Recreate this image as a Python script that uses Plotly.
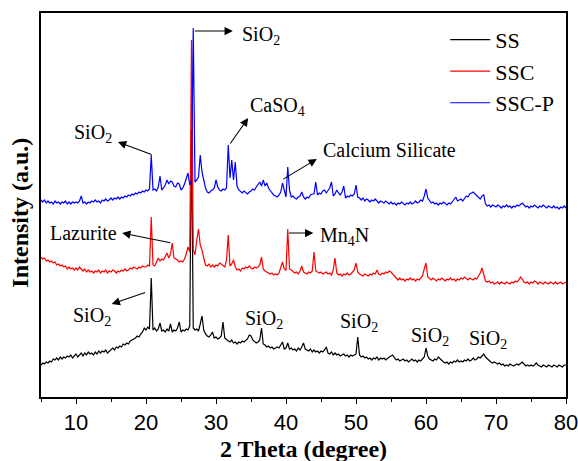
import numpy as np
import plotly.graph_objects as go

# 2-theta scan grid (degrees), 0.25 deg step
two_theta = np.round(np.arange(5.0, 80.001, 0.25), 2)

# Intensities (a.u.), one row = 5 degrees
ss = [
    35, 37, 36, 38, 37, 39, 38, 41, 40, 42, 40, 43, 41, 43, 42, 44, 43, 45, 42, 44,
    46, 43, 45, 47, 44, 47, 45, 48, 46, 47, 45, 48, 46, 49, 47, 49, 48, 50, 47, 49,
    50, 52, 50, 53, 52, 54, 53, 56, 55, 57, 56, 59, 60, 61, 62, 64, 63, 66, 68, 72,
    70, 73, 71, 122, 70, 72, 69, 71, 77, 69, 70, 68, 71, 69, 76, 68, 70, 69, 72, 78,
    68, 70, 69, 71, 70, 74, 270, 72, 70, 71, 69, 76, 84, 70, 66, 64, 63, 65, 68, 62,
    63, 61, 62, 64, 78, 62, 60, 59, 58, 60, 57, 58, 56, 58, 57, 59, 58, 60, 61, 65,
    64, 60, 58, 57, 58, 60, 72, 56, 55, 53, 54, 52, 53, 51, 52, 53, 52, 55, 58, 51,
    52, 57, 51, 52, 50, 51, 49, 52, 50, 53, 57, 51, 50, 49, 51, 48, 50, 48, 49, 47,
    49, 48, 50, 53, 47, 46, 48, 45, 47, 45, 46, 44, 45, 46, 44, 45, 43, 45, 44, 45,
    46, 63, 45, 43, 44, 42, 43, 41, 42, 40, 42, 41, 43, 40, 42, 41, 42, 40, 42, 43,
    44, 45, 42, 40, 41, 39, 40, 41, 39, 40, 38, 40, 41, 39, 40, 38, 40, 39, 41, 43,
    52, 44, 41, 40, 39, 41, 40, 43, 41, 39, 38, 37, 38, 36, 38, 37, 39, 38, 40, 38,
    39, 38, 40, 39, 41, 39, 40, 42, 40, 41, 43, 42, 44, 46, 43, 41, 39, 38, 37, 38,
    37, 36, 37, 35, 36, 34, 35, 34, 36, 35, 34, 35, 36, 35, 37, 38, 36, 34, 35, 34,
    35, 34, 35, 37, 35, 34, 33, 35, 34, 33, 35, 34, 33, 35, 34, 33, 35, 34, 33, 35,
    35,
]

ssc = [
    143, 141, 142, 139, 140, 138, 139, 137, 138, 135, 136, 134, 135, 133, 134, 131, 133, 131, 132, 130,
    132, 130, 133, 131, 129, 131, 128, 130, 128, 129, 127, 129, 128, 130, 127, 129, 128, 130, 127, 129,
    128, 130, 129, 127, 129, 128, 130, 129, 131, 129, 130, 132, 131, 133, 132, 131, 133, 132, 134, 133,
    133, 135, 134, 183, 135, 134, 138, 142, 139, 141, 140, 143, 147, 142, 146, 157, 142, 141, 140, 138,
    139, 138, 141, 146, 153, 148, 360, 150, 145, 160, 171, 155, 150, 142, 135, 134, 136, 133, 135, 133,
    135, 134, 137, 136, 134, 133, 140, 165, 134, 136, 140, 133, 130, 131, 129, 132, 131, 133, 132, 134,
    132, 131, 133, 132, 133, 135, 143, 131, 129, 128, 127, 126, 127, 125, 126, 125, 127, 133, 138, 131,
    130, 171, 131, 130, 128, 127, 128, 126, 129, 134, 128, 127, 126, 128, 127, 129, 148, 129, 128, 127,
    128, 126, 127, 128, 126, 127, 125, 130, 142, 127, 125, 126, 124, 126, 125, 127, 125, 126, 128, 130,
    137, 128, 126, 125, 124, 126, 125, 124, 126, 125, 127, 126, 130, 126, 125, 127, 126, 128, 127, 129,
    128, 126, 123, 121, 120, 122, 120, 121, 119, 121, 120, 122, 120, 121, 119, 121, 120, 122, 124, 131,
    137, 123, 121, 120, 122, 120, 119, 121, 120, 122, 120, 119, 121, 120, 122, 120, 121, 119, 121, 120,
    122, 121, 123, 121, 120, 122, 121, 120, 122, 121, 124, 127, 132, 126, 119, 118, 119, 117, 118, 116,
    117, 118, 116, 118, 117, 116, 118, 117, 116, 118, 117, 119, 118, 120, 123, 121, 118, 117, 118, 116,
    118, 117, 119, 118, 116, 118, 117, 116, 118, 117, 116, 118, 117, 116, 118, 116, 117, 118, 116, 117,
    118,
]

ssc_p = [
    200, 198, 200, 197, 199, 197, 198, 196, 199, 197, 198, 196, 198, 197, 199, 196, 198, 196, 198, 197,
    198, 197, 199, 204, 197, 198, 196, 198, 197, 199, 198, 200, 198, 199, 197, 200, 199, 201, 199, 200,
    202, 200, 202, 201, 203, 201, 203, 202, 204, 203, 205, 204, 206, 205, 207, 206, 208, 207, 209, 208,
    210, 209, 211, 245, 210, 211, 209, 213, 224, 210, 212, 215, 220, 216, 219, 218, 214, 213, 217, 216,
    210, 212, 216, 222, 227, 215, 220, 372, 218, 220, 223, 245, 228, 220, 212, 208, 207, 209, 210, 212,
    220, 213, 210, 209, 211, 210, 212, 255, 222, 240, 220, 238, 214, 210, 208, 207, 209, 207, 206, 208,
    209, 211, 210, 213, 215, 218, 214, 220, 214, 217, 212, 209, 207, 205, 204, 203, 205, 208, 217, 209,
    203, 233, 210, 203, 204, 202, 201, 203, 204, 208, 203, 201, 203, 202, 205, 206, 206, 218, 205, 207,
    206, 209, 210, 207, 209, 212, 218, 204, 206, 210, 207, 205, 208, 214, 202, 204, 203, 205, 204, 206,
    215, 203, 202, 200, 202, 199, 201, 200, 198, 200, 199, 201, 199, 197, 199, 198, 197, 199, 197, 196,
    198, 196, 197, 195, 197, 196, 198, 196, 195, 197, 196, 198, 196, 197, 199, 197, 198, 200, 199, 204,
    211, 202, 199, 197, 198, 196, 197, 195, 197, 196, 198, 196, 195, 197, 196, 198, 200, 203, 199, 200,
    201, 199, 202, 204, 203, 206, 207, 208, 206, 204, 202, 201, 204, 205, 196, 194, 195, 193, 195, 194,
    193, 195, 194, 192, 194, 193, 195, 193, 194, 192, 194, 193, 195, 194, 196, 197, 195, 193, 194, 192,
    194, 193, 195, 193, 192, 194, 193, 195, 193, 192, 194, 193, 192, 194, 192, 193, 191, 193, 192, 194,
    192,
]

series_names = ["SS", "SSC", "SSC-P"]
series_colors = ["#000000", "#ff0000", "#0000ff"]
tick_vals = [10, 20, 30, 40, 50, 60, 70, 80]
minor_vals = [5, 15, 25, 35, 45, 55, 65, 75]

# peak labels: (text, x, y) and arrows: (head_x, head_y, tail_x, tail_y)
labels = [
    ("SiO<sub>2</sub>", 33.4, 365),
    ("SiO<sub>2</sub>", 9.4, 267),
    ("CaSO<sub>4</sub>", 34.6, 294),
    ("Calcium Silicate", 45.0, 250),
    ("Lazurite", 6.0, 167),
    ("Mn<sub>4</sub>N", 44.6, 164),
    ("SiO<sub>2</sub>", 9.3, 84),
    ("SiO<sub>2</sub>", 33.9, 81),
    ("SiO<sub>2</sub>", 47.4, 78),
    ("SiO<sub>2</sub>", 57.6, 64),
    ("SiO<sub>2</sub>", 65.9, 61),
]
arrows = [
    (32.4, 369, 26.75, 369),
    (16.0, 258, 21.0, 245),
    (34.6, 282, 31.9, 255),
    (44.4, 241, 39.4, 220),
    (16.6, 167, 23.7, 157),
    (43.9, 167, 40.2, 167),
    (15.1, 96, 20.1, 108),
]

fig = go.Figure()
for name, col, ys in zip(series_names, series_colors, [ss, ssc, ssc_p]):
    fig.add_trace(go.Scatter(x=two_theta, y=ys, mode="lines", name=name,
                             line=dict(color=col, width=1.2)))

serif = "Liberation Serif"
ann = []
for t, x, y in labels:
    ann.append(dict(x=x, y=y, xref="x", yref="y", text=t, showarrow=False,
                    xanchor="left", yanchor="middle",
                    font=dict(family=serif, size=20, color="#000")))
for hx, hy, tx, ty in arrows:
    ann.append(dict(x=hx, y=hy, ax=tx, ay=ty, xref="x", yref="y", axref="x", ayref="y",
                    text="", showarrow=True, arrowhead=2, arrowsize=1.5, arrowwidth=1.1,
                    arrowcolor="#000", standoff=0, startstandoff=0))
ann.append(dict(x=0.5, y=-0.135, xref="paper", yref="paper", text="<b>2 Theta (degree)</b>",
                showarrow=False, xanchor="center", yanchor="middle",
                font=dict(family=serif, size=24, color="#000")))
ann.append(dict(x=-0.04, y=0.48, xref="paper", yref="paper", text="<b>Intensity (a.u.)</b>",
                showarrow=False, xanchor="center", yanchor="middle", textangle=-90,
                font=dict(family=serif, size=24, color="#000")))

fig.update_layout(
    width=578, height=461,
    margin=dict(l=41, r=12, t=13, b=64, autoexpand=False),
    paper_bgcolor="white", plot_bgcolor="white",
    annotations=ann,
    showlegend=True,
    legend=dict(x=0.77, y=0.985, xanchor="left", yanchor="top",
                bgcolor="rgba(0,0,0,0)", font=dict(family=serif, size=22, color="#000"),
                itemwidth=40),
    xaxis=dict(range=[5, 80], showgrid=False, zeroline=False, showline=True,
               linecolor="#000", linewidth=1.5, mirror=True,
               ticks="outside", ticklen=5, tickwidth=1.2, tickcolor="#000",
               tickmode="array", tickvals=tick_vals, ticklabeloverflow="allow",
               minor=dict(ticks="outside", ticklen=3, tickwidth=1, tickcolor="#000",
                          tickvals=minor_vals),
               tickfont=dict(family="Liberation Sans", size=22, color="#000")),
    yaxis=dict(range=[3, 387], showgrid=False, zeroline=False, showline=True,
               linecolor="#000", linewidth=1.5, mirror=True,
               showticklabels=False, ticks=""),
)

fig.write_html("out.html")
